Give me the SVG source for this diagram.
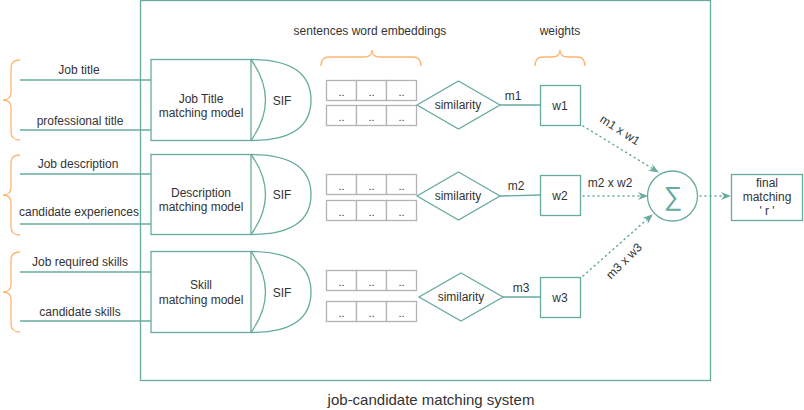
<svg xmlns="http://www.w3.org/2000/svg" width="804" height="410" viewBox="0 0 804 410">
<defs>
<style>
text{font-family:"Liberation Sans",Arial,sans-serif;font-size:12px;fill:#333;text-anchor:middle}
.t{fill:none;stroke:#67AB9F;stroke-width:1.3}
.tf{fill:#fff;stroke:#67AB9F;stroke-width:1.3}
.br{fill:none;stroke:#FFB570;stroke-width:1.3}
.cell{fill:#fff;stroke:#B3B3B3;stroke-width:1.3}
.dot{fill:none;stroke:#67AB9F;stroke-width:1.5;stroke-dasharray:1 4;stroke-linecap:round}
.dd{font-size:11px}
</style>
<marker id="ah" viewBox="0 0 10 8" refX="9" refY="4" markerWidth="10" markerHeight="8" markerUnits="userSpaceOnUse" orient="auto">
<path d="M0,0 L10,4 L0,8 L3,4 z" fill="#67AB9F"/>
</marker>
<g id="grid">
<rect class="cell" x="0" y="0" width="30" height="20"/>
<rect class="cell" x="30" y="0" width="30" height="20"/>
<rect class="cell" x="60" y="0" width="30" height="20"/>
<text class="dd" x="15" y="15">..</text>
<text class="dd" x="45" y="15">..</text>
<text class="dd" x="75" y="15">..</text>
</g>
</defs>
<rect width="804" height="410" fill="#fff"/>

<g id="frame">
<rect class="t" x="140.5" y="0.5" width="570" height="380"/>
<text x="431" y="405" style="font-size:15px">job-candidate matching system</text>
</g>

<g id="braces">
<path class="br" d="M20,60 Q11,60 11,68 L11,92 Q11,100 3,100 Q11,100 11,108 L11,132 Q11,140 20,140"/>
<path class="br" d="M20,155 Q11,155 11,163 L11,187 Q11,195 3,195 Q11,195 11,203 L11,227 Q11,235 20,235"/>
<path class="br" d="M20,252 Q11,252 11,260 L11,284 Q11,292 3,292 Q11,292 11,300 L11,324 Q11,332 20,332"/>
<path class="br" d="M321,66 Q321,57 329,57 L364,57 Q372,57 372,50 Q372,57 380,57 L413,57 Q421,57 421,66"/>
<path class="br" d="M535,66 Q535,57 543,57 L552,57 Q560,57 560,50 Q560,57 568,57 L577,57 Q585,57 585,66"/>
<text x="370" y="35">sentences word embeddings</text>
<text x="560" y="35">weights</text>
</g>

<g id="inputs">
<line class="t" x1="20" y1="80" x2="151" y2="80"/>
<line class="t" x1="20" y1="130" x2="151" y2="130"/>
<line class="t" x1="20" y1="174" x2="151" y2="174"/>
<line class="t" x1="20" y1="224" x2="151" y2="224"/>
<line class="t" x1="20" y1="272" x2="151" y2="272"/>
<line class="t" x1="20" y1="321" x2="151" y2="321"/>
<text x="79" y="74">Job title</text>
<text x="80" y="125">professional title</text>
<text x="78" y="168">Job description</text>
<text x="79" y="216">candidate experiences</text>
<text x="80" y="266">Job required skills</text>
<text x="80" y="316">candidate skills</text>
</g>

<g id="model1">
<rect class="tf" x="151" y="59.5" width="100" height="81"/>
<text x="201" y="103">Job Title</text>
<text x="201" y="117">matching model</text>
</g>
<g id="sif1">
<path class="t" d="M251,59.5 Q311,59.5 311,100 Q311,140.5 251,140.5"/>
<path class="t" d="M251,59.5 Q280,100 251,140.5"/>
<text x="282" y="105">SIF</text>
</g>
<g id="model2">
<rect class="tf" x="151" y="154.5" width="100" height="80"/>
<text x="201" y="197">Description</text>
<text x="201" y="211">matching model</text>
</g>
<g id="sif2">
<path class="t" d="M251,154.5 Q311,154.5 311,194.5 Q311,234.5 251,234.5"/>
<path class="t" d="M251,154.5 Q280,194.5 251,234.5"/>
<text x="282" y="199">SIF</text>
</g>
<g id="model3">
<rect class="tf" x="151" y="251.5" width="100" height="81"/>
<text x="201" y="289">Skill</text>
<text x="201" y="304">matching model</text>
</g>
<g id="sif3">
<path class="t" d="M251,251.5 Q311,251.5 311,292 Q311,332.5 251,332.5"/>
<path class="t" d="M251,251.5 Q280,292 251,332.5"/>
<text x="282" y="297">SIF</text>
</g>

<g id="emb1">
<use href="#grid" x="326.5" y="80.5"/>
<use href="#grid" x="326.5" y="105.5"/>
</g>
<g id="emb2">
<use href="#grid" x="326.5" y="174.5"/>
<use href="#grid" x="326.5" y="200.5"/>
</g>
<g id="emb3">
<use href="#grid" x="326.5" y="270.5"/>
<use href="#grid" x="326.5" y="301.5"/>
</g>

<g id="connectors">
<line class="t" x1="500" y1="105" x2="540" y2="105"/>
<line class="t" x1="500" y1="196" x2="540" y2="195"/>
<line class="t" x1="503" y1="297" x2="540" y2="297"/>
<line class="dot" x1="583" y1="126" x2="658" y2="172" marker-end="url(#ah)"/>
<line class="dot" x1="583" y1="196" x2="647" y2="196" marker-end="url(#ah)"/>
<line class="dot" x1="583" y1="276" x2="652" y2="215" marker-end="url(#ah)"/>
<line class="dot" x1="700" y1="196" x2="730" y2="196" marker-end="url(#ah)"/>
<text x="513" y="100">m1</text>
<text x="516" y="190">m2</text>
<text x="521" y="292">m3</text>
<text x="620" y="134" transform="rotate(33 620 130)">m1 x w1</text>
<text x="610" y="187">m2 x w2</text>
<text x="624" y="265" transform="rotate(-45 624 261)">m3 x w3</text>
</g>

<g id="sim1">
<path class="tf" d="M458.5,81 L500,105 L458.5,129 L417,105 Z"/>
<text x="458" y="109">similarity</text>
</g>
<g id="sim2">
<path class="tf" d="M458.5,172 L500,196 L458.5,220 L417,196 Z"/>
<text x="458" y="200">similarity</text>
</g>
<g id="sim3">
<path class="tf" d="M461,273 L503,297 L461,321 L419,297 Z"/>
<text x="461" y="301">similarity</text>
</g>

<g id="w1">
<rect class="tf" x="540.5" y="85.5" width="40" height="40"/>
<text x="560" y="110">w1</text>
</g>
<g id="w2">
<rect class="tf" x="540.5" y="175.5" width="40" height="40"/>
<text x="560" y="200">w2</text>
</g>
<g id="w3">
<rect class="tf" x="540.5" y="277.5" width="40" height="40"/>
<text x="560" y="302">w3</text>
</g>

<g id="sum">
<circle class="tf" cx="672.5" cy="196" r="25"/>
<text x="673" y="205" style="font-size:26px;fill:#67AB9F;font-family:'DejaVu Sans',sans-serif;font-weight:200">∑</text>
</g>

<g id="final">
<rect class="tf" x="731.5" y="174.5" width="71" height="46"/>
<text x="767" y="187">final</text>
<text x="767" y="201">matching</text>
<text x="767" y="215">' r '</text>
</g>
</svg>
